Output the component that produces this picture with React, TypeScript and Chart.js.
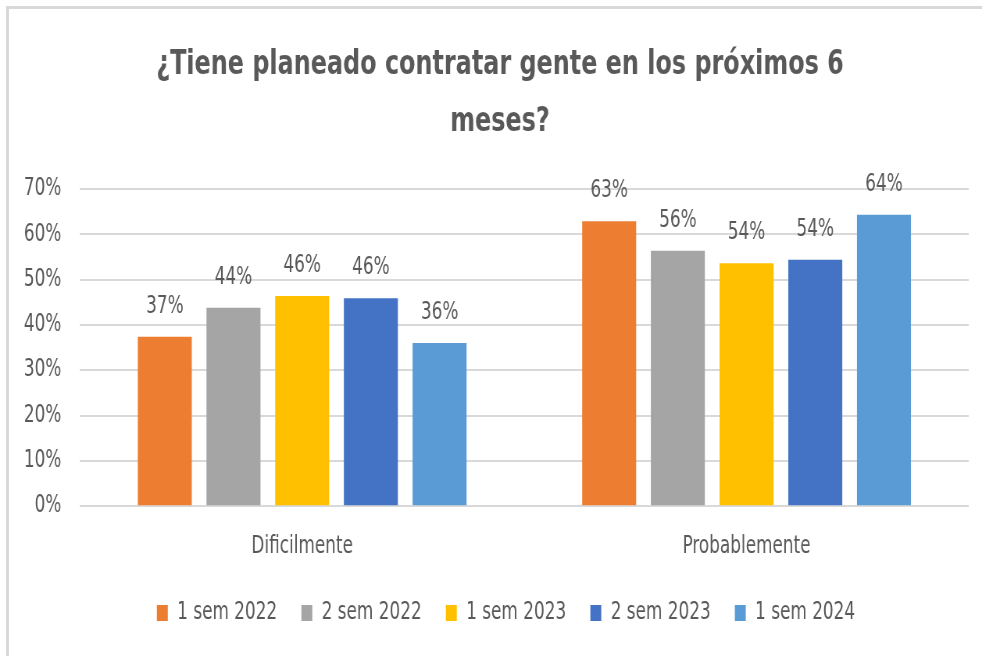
import React, { useEffect, useRef } from "react";
import { Chart, registerables } from "chart.js";

Chart.register(...registerables);

const categories = ["Dificilmente", "Probablemente"];
const seriesNames = ["1 sem 2022", "2 sem 2022", "1 sem 2023", "2 sem 2023", "1 sem 2024"];
const sem1_2022 = [37.4, 62.9];
const sem2_2022 = [43.8, 56.4];
const sem1_2023 = [46.4, 53.6];
const sem2_2023 = [45.9, 54.4];
const sem1_2024 = [36.0, 64.3];
const seriesColors = ["#ED7D31", "#A5A5A5", "#FFC000", "#4472C4", "#5B9BD5"];
const titleLines = ["¿Tiene planeado contratar gente en los próximos 6", "meses?"];
const yMin = 0;
const yMax = 70;
const yStep = 10;

// The canvas is drawn wider and squeezed horizontally by CSS to imitate the narrow text.
const CSS_W = 982;
const CSS_H = 656;
const K = 1.28;
const CANVAS_W = Math.round(CSS_W * K);

const FONT = "'Liberation Sans Narrow', 'DejaVu Sans Condensed', 'Noto Sans', sans-serif";
const TEXT = "#595959";

const PAD_LEFT = 8;
const PAD_RIGHT = 17;
const PLOT_LEFT = 80 * K;
const LEGEND_CX = 506 * K;
const LEGEND_TOP = 570;
const TITLE_CX = 500 * K;

const dataLabelPlugin = {
  id: "dataLabels",
  afterDatasetsDraw(chart: any) {
    const ctx = chart.ctx;
    ctx.save();
    ctx.font = `24px ${FONT}`;
    ctx.fillStyle = TEXT;
    ctx.textAlign = "center";
    ctx.textBaseline = "alphabetic";
    chart.data.datasets.forEach((ds: any, i: number) => {
      const meta = chart.getDatasetMeta(i);
      meta.data.forEach((bar: any, j: number) => {
        const v = ds.data[j];
        ctx.fillText(Math.round(v) + "%", bar.x, bar.y - 24);
      });
    });
    ctx.restore();
  },
};

const placeBoxesPlugin = {
  id: "placeBoxes",
  afterLayout(chart: any) {
    const lg = chart.legend;
    if (lg) {
      const w = lg.right - lg.left;
      const h = lg.bottom - lg.top;
      lg.left = LEGEND_CX - w / 2;
      lg.right = lg.left + w;
      lg.top = LEGEND_TOP;
      lg.bottom = lg.top + h;
    }
    const tt = chart.titleBlock;
    if (tt) {
      const w = tt.right - tt.left;
      tt.left = TITLE_CX - w / 2;
      tt.right = tt.left + w;
    }
  },
};

export default function App() {
  const ref = useRef<HTMLCanvasElement | null>(null);

  useEffect(() => {
    if (!ref.current) return;
    const seriesData = [sem1_2022, sem2_2022, sem1_2023, sem2_2023, sem1_2024];
    const chart = new Chart(ref.current, {
      type: "bar",
      data: {
        labels: categories,
        datasets: seriesNames.map((name, i) => ({
          label: name,
          data: seriesData[i],
          backgroundColor: seriesColors[i],
          borderWidth: 0,
          categoryPercentage: 0.773,
          barPercentage: 0.786,
        })),
      },
      options: {
        animation: false,
        responsive: false,
        maintainAspectRatio: false,
        devicePixelRatio: 1,
        layout: { padding: { top: 36.5, left: PAD_LEFT, right: PAD_RIGHT, bottom: 4 } },
        plugins: {
          title: {
            display: true,
            text: titleLines,
            color: TEXT,
            font: { family: FONT, size: 34, weight: "bold", lineHeight: 57 / 34 },
            padding: { top: 0, bottom: 38.5 },
          },
          legend: {
            position: "bottom",
            labels: {
              color: TEXT,
              font: { family: FONT, size: 24 },
              boxWidth: 14,
              boxHeight: 16,
              padding: 31,
            },
          },
          tooltip: { enabled: false },
        },
        scales: {
          x: {
            grid: { display: false, drawTicks: false },
            border: { display: false },
            ticks: { color: TEXT, font: { family: FONT, size: 24 }, padding: 26 },
          },
          y: {
            min: yMin,
            max: yMax,
            afterFit: (scale: any) => {
              scale.width = PLOT_LEFT - PAD_LEFT;
            },
            grid: { color: "#D9D9D9", lineWidth: 2, drawTicks: false },
            border: { display: false },
            ticks: {
              stepSize: yStep,
              color: TEXT,
              font: { family: FONT, size: 24 },
              padding: 24,
              callback: (v: any) => v + "%",
            },
          },
        },
      },
      plugins: [dataLabelPlugin, placeBoxesPlugin],
    });
    return () => chart.destroy();
  }, []);

  return (
    <div style={{ position: "fixed", left: 0, top: 0, width: CSS_W, height: CSS_H, background: "#fff", overflow: "hidden" }}>
      <div
        style={{
          position: "absolute",
          left: 6,
          top: 6,
          width: 990,
          height: 670,
          borderTop: "3px solid #D9D9D9",
          borderLeft: "3px solid #D9D9D9",
        }}
      />
      <canvas
        ref={ref}
        width={CANVAS_W}
        height={CSS_H}
        style={{ position: "absolute", left: 0, top: 0, width: CSS_W + "px", height: CSS_H + "px" }}
      />
    </div>
  );
}
